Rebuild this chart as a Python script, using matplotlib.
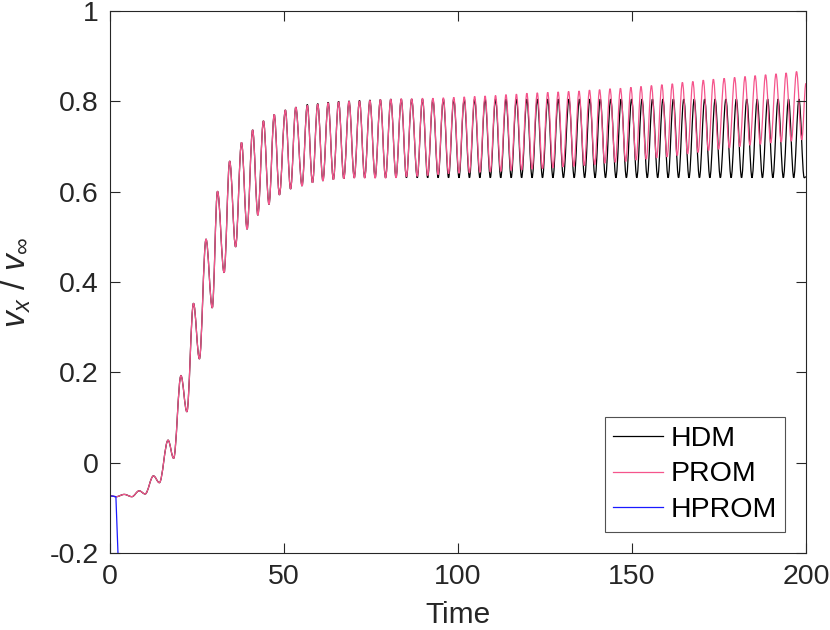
import matplotlib
matplotlib.use("Agg")
import matplotlib.pyplot as plt
from matplotlib.path import Path
from matplotlib.patches import PathPatch
from matplotlib.lines import Line2D
import numpy as np

plt.rcParams["font.family"] = ["Liberation Sans", "DejaVu Sans"]
plt.rcParams["mathtext.fontset"] = "custom"
plt.rcParams["mathtext.rm"] = "Liberation Sans"
plt.rcParams["mathtext.it"] = "Liberation Sans:italic"

# start-up transient, identical for HDM and PROM (time, v_x / v_inf), read at the extrema
start_t = [0.0, 1.8, 4.1, 6.3, 8.4, 10.1, 12.5, 14.2, 16.7, 18.3, 20.4, 22.1,
           24.0, 25.7, 27.6, 29.4, 30.9, 32.8, 34.4, 36.1, 37.8, 39.4, 41.0,
           42.5, 44.1, 45.7, 47.2, 48.7, 50.4, 51.9, 53.4]
start_v = [-0.073, -0.075, -0.070, -0.075, -0.062, -0.069, -0.029, -0.044,
           0.050, 0.010, 0.193, 0.113, 0.353, 0.230, 0.495, 0.343, 0.601,
           0.421, 0.668, 0.478, 0.709, 0.517, 0.737, 0.548, 0.757, 0.572,
           0.771, 0.593, 0.781, 0.606, 0.787]

# HDM after t = 55: troughs and peaks
hdm_trough_t = [55.2, 58.2, 61.2, 64.2, 67.2, 70.2, 73.2, 76.2, 79.2, 82.2,
                85.2, 88.3, 91.3, 94.3, 97.3, 100.3, 103.3, 106.3, 109.3, 112.3,
                115.3, 118.3, 121.3, 124.3, 127.3, 130.3, 133.4, 136.4, 139.4,
                142.4, 145.4, 148.4, 151.4, 154.4, 157.4, 160.4, 163.4, 166.4,
                169.4, 172.4, 175.4, 178.5, 181.5, 184.5, 187.5, 190.5, 193.5,
                196.5, 199.5]
hdm_trough_v = [0.613, 0.620, 0.624, 0.627, 0.629] + [0.631] * 44
hdm_peak_t = [56.7, 59.7, 62.7, 65.7, 68.7, 71.7, 74.7, 77.7, 80.7, 83.7, 86.7,
              89.8, 92.8, 95.8, 98.8, 101.8, 104.8, 107.8, 110.8, 113.8, 116.8,
              119.8, 122.8, 125.8, 128.8, 131.9, 134.9, 137.9, 140.9, 143.9,
              146.9, 149.9, 152.9, 155.9, 158.9, 161.9, 164.9, 167.9, 170.9,
              173.9, 177.0, 180.0, 183.0, 186.0, 189.0, 192.0, 195.0, 198.0]
hdm_peak_v = [0.793, 0.795, 0.798, 0.800, 0.801, 0.802, 0.803, 0.804] + [0.805] * 40
hdm_end = (200.0, 0.633)

# PROM after t = 55: drifts slightly ahead in phase and upward
prom_trough_t = [55.2, 58.2, 61.2, 64.2, 67.2, 70.2, 73.2, 76.2, 79.2, 82.2,
                 85.2, 88.3, 91.3, 94.3, 97.3, 100.3, 103.3, 106.3, 109.3, 112.3,
                 115.3, 118.3, 121.3, 124.3, 127.3, 130.2, 133.3, 136.3, 139.3,
                 142.2, 145.2, 148.2, 151.2, 154.1, 157.1, 160.1, 163.0, 166.0,
                 169.0, 172.0, 174.9, 178.0, 181.0, 183.9, 186.9, 189.9, 192.9,
                 195.8, 198.8]
prom_trough_v = [0.613, 0.620, 0.624, 0.627, 0.629, 0.630, 0.630, 0.630, 0.630,
                 0.631, 0.633, 0.634, 0.636, 0.638, 0.640, 0.641, 0.642, 0.643,
                 0.644, 0.645, 0.647, 0.648, 0.650, 0.651, 0.653, 0.655, 0.656,
                 0.658, 0.660, 0.663, 0.665, 0.667, 0.670, 0.672, 0.675, 0.677,
                 0.680, 0.684, 0.687, 0.691, 0.694, 0.697, 0.700, 0.703, 0.705,
                 0.708, 0.710, 0.712, 0.715]
prom_peak_t = [56.7, 59.7, 62.7, 65.7, 68.7, 71.7, 74.7, 77.7, 80.7, 83.7, 86.7,
               89.8, 92.8, 95.8, 98.8, 101.8, 104.8, 107.8, 110.8, 113.8, 116.8,
               119.8, 122.8, 125.8, 128.8, 131.8, 134.8, 137.8, 140.7, 143.7,
               146.7, 149.7, 152.6, 155.6, 158.6, 161.6, 164.5, 167.5, 170.5,
               173.4, 176.5, 179.5, 182.5, 185.4, 188.4, 191.4, 194.3, 197.3]
prom_peak_v = [0.791, 0.794, 0.797, 0.799, 0.800, 0.801, 0.802, 0.804, 0.805,
               0.806, 0.806, 0.807, 0.807, 0.808, 0.809, 0.810, 0.811, 0.812,
               0.813, 0.815, 0.816, 0.818, 0.819, 0.820, 0.821, 0.822, 0.823,
               0.825, 0.826, 0.828, 0.829, 0.831, 0.833, 0.835, 0.837, 0.839,
               0.842, 0.844, 0.847, 0.849, 0.851, 0.853, 0.855, 0.857, 0.859,
               0.861, 0.863, 0.866]
prom_end = (200.0, 0.840)

# HPROM diverges right away
hprom_t = [0.0, 1.7, 2.3, 2.5]
hprom_v = [-0.073, -0.075, -0.20, -0.30]

hdm_color = "black"
prom_color = "#f5558c"
hprom_color = "#1a1aff"


def join_series(trough_t, trough_v, peak_t, peak_v, end):
    t = list(start_t) + list(trough_t) + list(peak_t) + [end[0]]
    v = list(start_v) + list(trough_v) + list(peak_v) + [end[1]]
    order = np.argsort(t)
    return np.array(t)[order], np.array(v)[order]


def extrema_path(t, v, k=0.36):
    # rounded humps between successive extrema (flat tangent at each one)
    verts = [(t[0], v[0])]
    codes = [Path.MOVETO]
    for i in range(len(t) - 1):
        dt = t[i + 1] - t[i]
        verts += [(t[i] + k * dt, v[i]), (t[i + 1] - k * dt, v[i + 1]),
                  (t[i + 1], v[i + 1])]
        codes += [Path.CURVE4] * 3
    return Path(verts, codes)


hdm_t, hdm_v = join_series(hdm_trough_t, hdm_trough_v, hdm_peak_t, hdm_peak_v, hdm_end)
prom_t, prom_v = join_series(prom_trough_t, prom_trough_v, prom_peak_t, prom_peak_v, prom_end)

fig = plt.figure(figsize=(8.3, 6.3), dpi=100)
ax = fig.add_axes([0.1325, 0.122, 0.8385, 0.8605])

ax.add_patch(PathPatch(extrema_path(hdm_t, hdm_v), fill=False,
                       edgecolor=hdm_color, lw=0.9))
ax.add_patch(PathPatch(extrema_path(prom_t, prom_v), fill=False,
                       edgecolor=prom_color, lw=0.9))
ax.plot(hprom_t, hprom_v, color=hprom_color, lw=0.9)

ax.set_xlim(0, 200)
ax.set_ylim(-0.2, 1)
ax.set_xticks([0, 50, 100, 150, 200])
ax.set_yticks([-0.2, 0, 0.2, 0.4, 0.6, 0.8, 1])
ax.set_yticklabels(["-0.2", "0", "0.2", "0.4", "0.6", "0.8", "1"])

ax.tick_params(direction="in", length=7, width=0.8, colors="#262626",
               labelsize=20.5, top=True, right=True, pad=8)
for s in ax.spines.values():
    s.set_color("#262626")
    s.set_linewidth(0.8)

ax.set_xlabel("Time", fontsize=21.5, color="#262626", labelpad=8)
ax.set_ylabel(r"$\mathit{v_x}$ / $\mathit{v_\infty}$", fontsize=24,
              color="#262626", labelpad=12)

handles = [Line2D([], [], color=hdm_color, lw=0.9),
           Line2D([], [], color=prom_color, lw=0.9),
           Line2D([], [], color=hprom_color, lw=0.9)]
leg = ax.legend(handles, ["HDM", "PROM", "HPROM"], loc="lower right",
                fontsize=20.5, frameon=True, fancybox=False,
                handlelength=1.75, handletextpad=0.25, borderpad=0.3,
                labelspacing=0.35, borderaxespad=0,
                bbox_to_anchor=(0.970, 0.039))
leg.get_frame().set_edgecolor("#262626")
leg.get_frame().set_linewidth(0.8)

fig.savefig("out.png", dpi=100)
